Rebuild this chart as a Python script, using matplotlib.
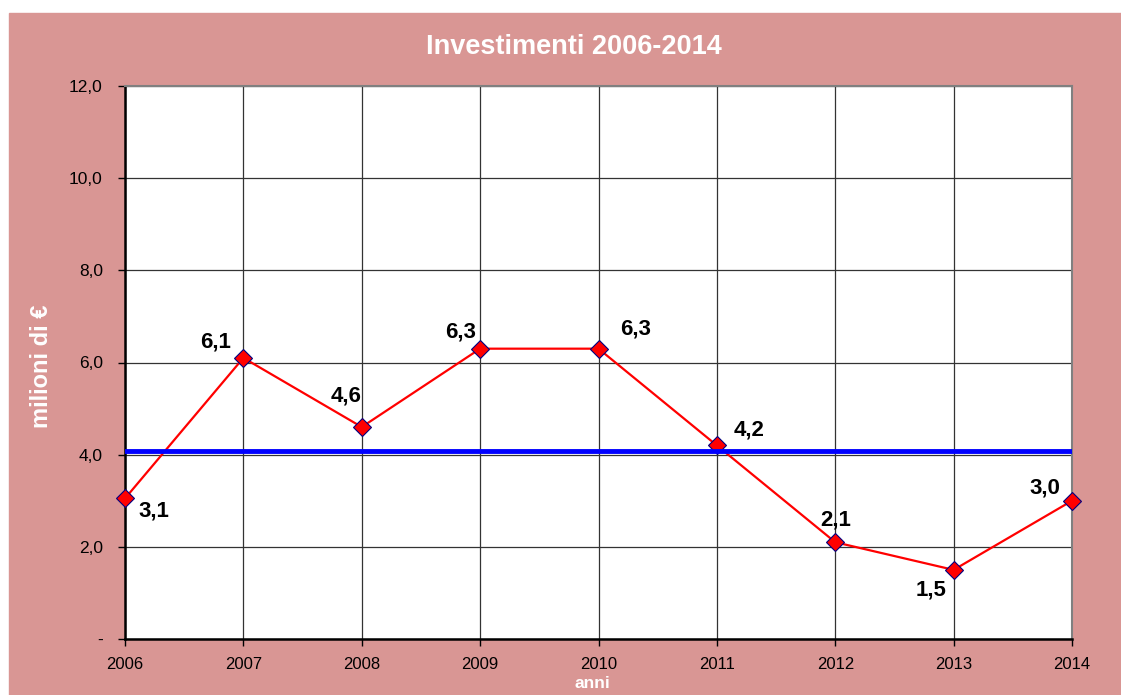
import matplotlib.pyplot as plt
from matplotlib.patches import Rectangle

plt.rcParams['font.family'] = ['Liberation Sans', 'DejaVu Sans']

anni = [2006, 2007, 2008, 2009, 2010, 2011, 2012, 2013, 2014]
valori = [3.05, 6.1, 4.6, 6.3, 6.3, 4.2, 2.1, 1.5, 3.0]
etichette = ['3,1', '6,1', '4,6', '6,3', '6,3', '4,2', '2,1', '1,5', '3,0']
media = 4.08
yticks = [0, 2, 4, 6, 8, 10, 12]
ylabels = ['-', '2,0', '4,0', '6,0', '8,0', '10,0', '12,0']

# label offsets in pixels (dx, dy)
offsets = [(29, -13), (-28, 16), (-16, 31), (-20, 17), (37, 20),
           (32, 15), (0, 22), (-23, -20), (-27, 13)]

pink = '#D99694'
fig = plt.figure(figsize=(11.21, 6.95), dpi=100)
fig.patch.set_facecolor('white')
fig.patches.append(Rectangle((9 / 1121, 0), 1, (695 - 13) / 695,
                             transform=fig.transFigure, color=pink, zorder=-10))

ax = fig.add_axes([125 / 1121, 56 / 695, 947 / 1121, 553 / 695])
ax.set_facecolor('white')

ax.plot(anni, valori, color='red', lw=1.6, marker='D', markersize=9.5,
        markerfacecolor='red', markeredgecolor='navy', markeredgewidth=0.8,
        zorder=3, clip_on=False)
ax.axhline(media, color='#0000FF', lw=3.5, zorder=4)

for x, y, t, (dx, dy) in zip(anni, valori, etichette, offsets):
    ax.annotate(t, (x, y), xytext=(dx, dy), textcoords='offset pixels',
                ha='center', va='center', fontsize=16, fontweight='bold',
                color='black', zorder=5)

ax.set_xlim(2006, 2014)
ax.set_ylim(0, 12)
ax.set_xticks(anni)
ax.set_xticklabels([str(a) for a in anni], fontsize=12)
ax.set_yticks(yticks)
ax.set_yticklabels(ylabels, fontsize=12.5)
ax.grid(True, color='#333333', lw=0.9)
ax.set_axisbelow(True)
ax.tick_params(direction='out', length=5, width=1, colors='black')
ax.tick_params(axis='y', pad=11)
ax.tick_params(axis='x', pad=8)
ax.spines['left'].set_linewidth(1.8)
ax.spines['bottom'].set_linewidth(1.8)
ax.spines['top'].set_color('#808080')
ax.spines['right'].set_color('#808080')
ax.spines['top'].set_linewidth(1.5)
ax.spines['right'].set_linewidth(1.5)

fig.text(574 / 1121, 1 - 47 / 695, 'Investimenti 2006-2014', ha='center',
         va='center', color='white', fontsize=19.5, fontweight='bold')
fig.text(42 / 1121, 1 - 366 / 695, 'milioni di €', ha='center', va='center',
         rotation=90, color='white', fontsize=17, fontweight='bold')
fig.text(592 / 1121, 1 - 683 / 695, 'anni', ha='center', va='center',
         color='white', fontsize=12.5, fontweight='bold')

fig.savefig('out.png', dpi=100, facecolor=fig.get_facecolor())
